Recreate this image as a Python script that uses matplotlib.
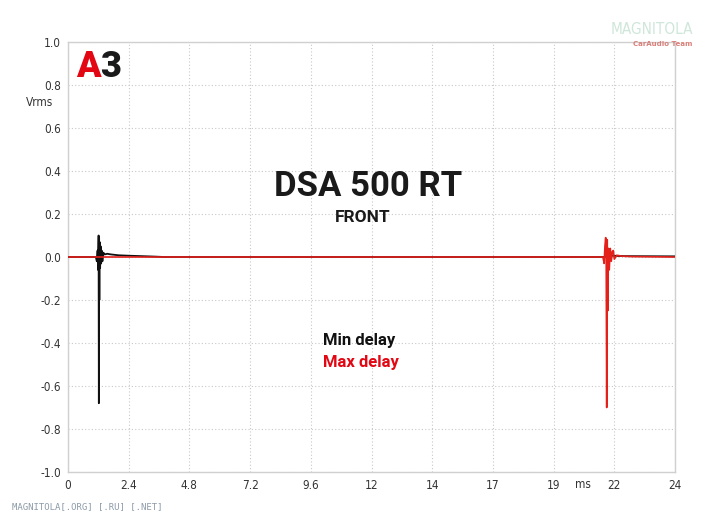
#!/usr/bin/env python3

import matplotlib.pyplot as plt

# impulse response, min delay (black) - time in ms, value in Vrms
t_min = [0.0, 1.10, 1.14, 1.17, 1.19, 1.21, 1.22, 1.23, 1.24, 1.25, 1.27, 1.29,
         1.31, 1.33, 1.36, 1.40, 1.45, 1.55, 1.70, 2.00, 2.40, 2.90, 3.40, 3.80,
         21.20, 21.35, 21.50, 22.00, 24.0]
v_min = [0.0, 0.0, -0.02, 0.03, -0.06, 0.10, -0.68, 0.09, -0.20, 0.07, -0.05, 0.05,
         -0.03, 0.03, -0.02, 0.02, 0.012, 0.015, 0.012, 0.008, 0.006, 0.004, 0.002, 0.0,
         0.0, 0.005, 0.006, 0.004, 0.003]

# impulse response, max delay (red)
t_max = [0.0, 21.15, 21.20, 21.23, 21.26, 21.28, 21.30, 21.32, 21.34, 21.37, 21.40,
         21.44, 21.48, 21.52, 21.56, 21.60, 21.70, 21.90, 22.30, 24.0]
v_max = [0.0, 0.0, -0.03, 0.05, 0.09, 0.02, -0.70, 0.08, -0.25, 0.04, -0.06,
         0.04, -0.02, 0.025, 0.03, -0.01, 0.008, 0.004, 0.002, 0.0]

x_ticks = [0, 2.4, 4.8, 7.2, 9.6, 12, 14.4, 16.8, 19.2, 21.6, 24]
x_labels = ["0", "2.4", "4.8", "7.2", "9.6", "12", "14", "17", "19", "22", "24"]
y_ticks = [1.0, 0.8, 0.6, 0.4, 0.2, 0.0, -0.2, -0.4, -0.6, -0.8, -1.0]
y_labels = ["1.0", "0.8", "0.6", "0.4", "0.2", "0.0", "-0.2", "-0.4", "-0.6", "-0.8", "-1.0"]

RED = "#e30613"
TICK_FONT = dict(family="DejaVu Sans", stretch="condensed", size=8.5, color="#333333")

fig = plt.figure(figsize=(7.12, 5.17), dpi=100)
ax = fig.add_axes([68 / 712, 1 - 472 / 517, 607 / 712, 430 / 517])

ax.plot(t_min, v_min, color="#111111", lw=1.3, zorder=3)
ax.plot(t_max, v_max, color="#e4201a", lw=1.2, zorder=4)

ax.set_xlim(0, 24)
ax.set_ylim(-1.0, 1.0)
ax.set_xticks(x_ticks)
ax.set_xticklabels(x_labels, fontdict=TICK_FONT)
ax.set_yticks(y_ticks)
ax.set_yticklabels(y_labels, fontdict=TICK_FONT)
ax.tick_params(length=0, pad=5)

ax.grid(True, color="#c8c8c8", linestyle=(0, (1, 2)), lw=0.8)
for s in ax.spines.values():
    s.set_color("#d0d0d0")
    s.set_linewidth(1.0)

# axis captions
fig.text(583 / 712, 1 - 484 / 517, "ms", ha="center", va="center",
         fontsize=8.5, family="DejaVu Sans", stretch="condensed", color="#333333")
fig.text(40 / 712, 1 - 103 / 517, "Vrms", ha="center", va="center",
         fontsize=8.5, family="DejaVu Sans", stretch="condensed", color="#333333")

# titles
fig.text(368 / 712, 1 - 187 / 517, "DSA 500 RT", ha="center", va="center",
         fontsize=25, fontweight="bold", family="Roboto", color="#1a1a1a")
fig.text(363 / 712, 1 - 218 / 517, "FRONT", ha="center", va="center",
         fontsize=12.5, fontweight="bold", family="Roboto", color="#1a1a1a")

# legend as plain text
fig.text(323 / 712, 1 - 340 / 517, "Min delay", ha="left", va="center",
         fontsize=12, fontweight="bold", family="Roboto", color="#111111")
fig.text(323 / 712, 1 - 363 / 517, "Max delay", ha="left", va="center",
         fontsize=12, fontweight="bold", family="Roboto", color=RED)

# A3 badge
fig.text(100 / 712, 1 - 67 / 517, "3", ha="left", va="center", fontsize=26,
         fontweight="heavy", family="Roboto", color="#1a1a1a")
fig.text(76 / 712, 1 - 67 / 517, "A", ha="left", va="center", fontsize=26,
         fontweight="heavy", family="Roboto", color=RED)

# logo top right
fig.text(652 / 712, 1 - 30 / 517, "MAGNITOLA", ha="center", va="center",
         fontsize=11, family="DejaVu Sans", stretch="condensed", color="#cfe6da")
fig.text(692 / 712, 1 - 44 / 517, "CarAudio Team", ha="right", va="center",
         fontsize=5, fontweight="bold", family="DejaVu Sans", color="#d8807a")

# footer
fig.text(12 / 712, 1 - 507 / 517, "MAGNITOLA[.ORG] [.RU] [.NET]", ha="left", va="center",
         fontsize=6.5, family="DejaVu Sans Mono", color="#8c9ba8")

plt.savefig("out.png", dpi=100)
plt.close()
